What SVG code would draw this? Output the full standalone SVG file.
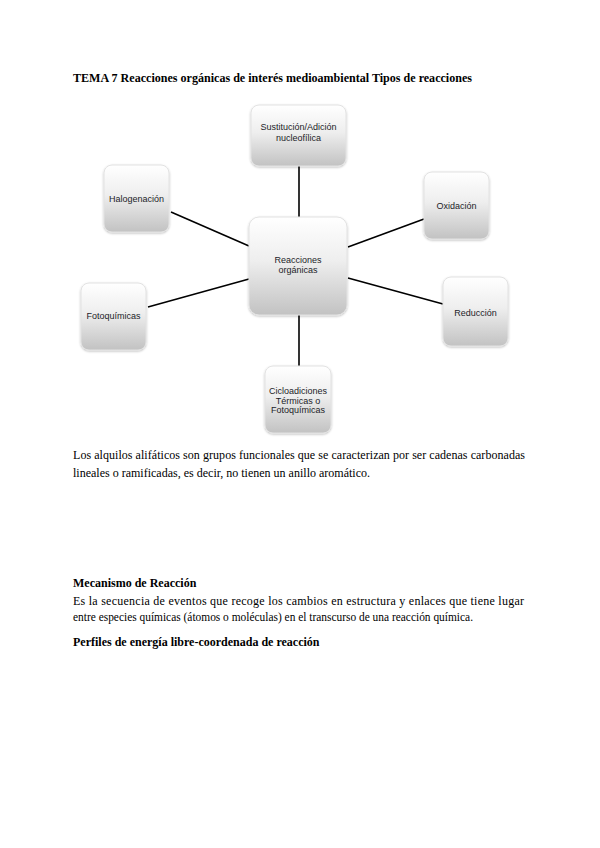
<svg xmlns="http://www.w3.org/2000/svg" width="600" height="848" viewBox="0 0 600 848">
<style>
.doc{font-family:"Liberation Serif","Times New Roman",serif;font-size:12px;fill:#000}
.b{font-weight:bold}
.lbl{font-family:"Liberation Sans",Arial,sans-serif;font-size:9px;fill:#1c1c28;text-anchor:middle}
.box{fill:url(#g);stroke:#e2e2e2;stroke-width:1;filter:url(#sh)}
.con{stroke:#000;stroke-width:1.6;fill:none}
</style>
<defs>
<linearGradient id="g" x1="0" y1="0" x2="0" y2="1">
<stop offset="0" stop-color="#ffffff"/>
<stop offset="0.45" stop-color="#eeeeee"/>
<stop offset="1" stop-color="#c2c2c2"/>
</linearGradient>
<filter id="sh" x="-20%" y="-20%" width="140%" height="140%">
<feDropShadow dx="0" dy="1" stdDeviation="1" flood-color="#000" flood-opacity="0.25"/>
</filter>
</defs>
<rect width="600" height="848" fill="#fff"/>
<text class="doc b" x="73" y="82" textLength="399" lengthAdjust="spacingAndGlyphs">TEMA 7 Reacciones orgánicas de interés medioambiental Tipos de reacciones</text>
<g id="connectors">
<line class="con" x1="299" y1="166" x2="299" y2="217"/>
<line class="con" x1="171" y1="212" x2="249" y2="246"/>
<line class="con" x1="348" y1="247" x2="424" y2="219"/>
<line class="con" x1="148" y1="307" x2="249" y2="279"/>
<line class="con" x1="348" y1="278" x2="443" y2="304"/>
<line class="con" x1="299" y1="315" x2="299" y2="366"/>
</g>
<g id="n-center">
<rect class="box" x="249" y="217" width="98" height="98" rx="10"/>
<text class="lbl" x="298" y="263">Reacciones</text>
<text class="lbl" x="298" y="273">orgánicas</text>
</g>
<g id="n-sustitucion">
<rect class="box" x="251" y="105" width="95" height="61" rx="8"/>
<text class="lbl" x="298.5" y="130">Sustitución/Adición</text>
<text class="lbl" x="298.5" y="140.5">nucleofílica</text>
</g>
<g id="n-halogenacion">
<rect class="box" x="104" y="165" width="65" height="67" rx="8"/>
<text class="lbl" x="136.5" y="201.5">Halogenación</text>
</g>
<g id="n-oxidacion">
<rect class="box" x="424" y="172" width="65" height="67" rx="8"/>
<text class="lbl" x="456.5" y="208.5">Oxidación</text>
</g>
<g id="n-fotoquimicas">
<rect class="box" x="81" y="283" width="65" height="67" rx="8"/>
<text class="lbl" x="113.5" y="319">Fotoquímicas</text>
</g>
<g id="n-reduccion">
<rect class="box" x="443" y="277" width="65" height="69" rx="8"/>
<text class="lbl" x="475.5" y="315.5">Reducción</text>
</g>
<g id="n-cicloadiciones">
<rect class="box" x="265" y="366" width="66" height="67" rx="8"/>
<text class="lbl" x="298" y="394">Cicloadiciones</text>
<text class="lbl" x="298" y="403.7">Térmicas o</text>
<text class="lbl" x="298" y="413.4">Fotoquímicas</text>
</g>
<text class="doc" x="73" y="459" textLength="452" lengthAdjust="spacing">Los alquilos alifáticos son grupos funcionales que se caracterizan por ser cadenas carbonadas</text>
<text class="doc" x="73" y="477" textLength="297" lengthAdjust="spacingAndGlyphs">lineales o ramificadas, es decir, no tienen un anillo aromático.</text>
<text class="doc b" x="73" y="587">Mecanismo de Reacción</text>
<text class="doc" x="73" y="605" textLength="451" lengthAdjust="spacing">Es la secuencia de eventos que recoge los cambios en estructura y enlaces que tiene lugar</text>
<text class="doc" x="73" y="621" textLength="400" lengthAdjust="spacingAndGlyphs">entre especies químicas (átomos o moléculas) en el transcurso de una reacción química.</text>
<text class="doc b" x="73" y="646">Perfiles de energía libre-coordenada de reacción</text>
</svg>
